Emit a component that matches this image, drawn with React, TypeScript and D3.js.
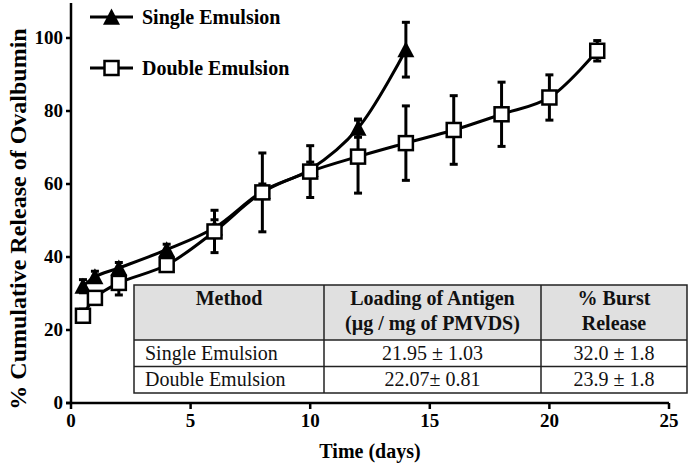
import React from 'react';
import * as d3 from 'd3';

const singleDays = [0.5, 1, 2, 4, 6, 8, 10, 12, 14];
const singleRelease = [32.0, 34.6, 37.0, 42.0, 48.0, 58.0, 64.0, 75.3, 96.8];
const singleError = [1.8, 1.5, 1.5, 1.5, 2.2, 2.0, 2.0, 2.5, 7.5];

const doubleDays = [0.5, 1, 2, 4, 6, 8, 10, 12, 14, 16, 18, 20, 22];
const doubleRelease = [23.9, 28.8, 32.9, 37.8, 47.0, 57.7, 63.4, 67.5, 71.2, 74.8, 79.1, 83.7, 96.5];
const doubleError = [1.8, 1.5, 3.3, 1.5, 5.8, 10.8, 7.1, 10.0, 10.2, 9.4, 8.8, 6.2, 2.8];

const xTicks = [0, 5, 10, 15, 20, 25];
const yTicks = [0, 20, 40, 60, 80, 100];

const seriesNames = ['Single Emulsion', 'Double Emulsion'];
const tableHeaders = [['Method'], ['Loading of Antigen', '(µg / mg of PMVDS)'], ['% Burst', 'Release']];
const tableMethods = ['Single Emulsion', 'Double Emulsion'];
const tableLoading = ['21.95 ± 1.03', '22.07± 0.81'];
const tableBurst = ['32.0 ± 1.8', '23.9 ± 1.8'];

const FONT = '"Liberation Serif", "Times New Roman", serif';

export default function App() {
  const W = 690, H = 464;
  const x = d3.scaleLinear().domain([0, 25]).range([71, 669]);
  const y = d3.scaleLinear().domain([0, 110]).range([403, 1.5]);

  const line = d3.line<[number, number]>()
    .x(d => x(d[0]))
    .y(d => y(d[1]))
    .curve(d3.curveCatmullRom.alpha(0.5));

  const single = singleDays.map((d, i) => [d, singleRelease[i], singleError[i]]);
  const dbl = doubleDays.map((d, i) => [d, doubleRelease[i], doubleError[i]]);

  const triPath = (cx: number, cy: number) => {
    const s = 8.5;
    return `M${cx},${cy - s}L${cx + s},${cy + s * 0.9}L${cx - s},${cy + s * 0.9}Z`;
  };

  const errBars = (data: number[][], key: string) =>
    data.map((d, i) => {
      const cx = x(d[0]);
      const y1 = y(d[1] + d[2]);
      const y2 = y(d[1] - d[2]);
      return (
        <g key={key + i} stroke="#000" strokeWidth={3}>
          <line x1={cx} x2={cx} y1={y1} y2={y2} />
          <line x1={cx - 4} x2={cx + 4} y1={y1} y2={y1} />
          <line x1={cx - 4} x2={cx + 4} y1={y2} y2={y2} />
        </g>
      );
    });

  const tL = 134, tR = 687, tT = 285, tHB = 340, tR1 = 366.5, tB = 393;
  const cols = [tL, 324, 541, tR];
  const colMid = (c: number) => (cols[c] + cols[c + 1]) / 2;

  return (
    <svg width={W} height={H} style={{ position: 'absolute', left: 0, top: 0, background: '#fff', fontFamily: FONT }}>
      <rect x={0} y={0} width={W} height={H} fill="#fff" />

      <g>
        <rect x={tL} y={tT} width={tR - tL} height={tHB - tT} fill="#e0e0e0" />
        <rect x={tL} y={tHB} width={tR - tL} height={tB - tHB} fill="#fff" />
        <g stroke="#222" strokeWidth={1.5} fill="none">
          <rect x={tL} y={tT} width={tR - tL} height={tB - tT} />
          <line x1={tL} x2={tR} y1={tHB} y2={tHB} />
          <line x1={tL} x2={tR} y1={tR1} y2={tR1} />
          <line x1={cols[1]} x2={cols[1]} y1={tT} y2={tB} />
          <line x1={cols[2]} x2={cols[2]} y1={tT} y2={tB} />
        </g>
        {tableHeaders.map((lines, c) =>
          lines.map((t, j) => (
            <text key={'h' + c + j} x={colMid(c)} y={lines.length === 1 ? 305 : 305 + j * 25}
              textAnchor="middle" fontWeight="bold" fontSize={20} fill="#111">{t}</text>
          ))
        )}
        {tableMethods.map((m, r) => {
          const cy = r === 0 ? (tHB + tR1) / 2 : (tR1 + tB) / 2;
          return (
            <g key={'r' + r} fontSize={20} fill="#111">
              <text x={tL + 11} y={cy + 6.5}>{m}</text>
              <text x={colMid(1)} y={cy + 6.5} textAnchor="middle">{tableLoading[r]}</text>
              <text x={colMid(2)} y={cy + 6.5} textAnchor="middle">{tableBurst[r]}</text>
            </g>
          );
        })}
      </g>

      <g stroke="#000" strokeWidth={2.5}>
        <line x1={x(0)} x2={x(0)} y1={3} y2={y(0) + 1} />
        <line x1={x(0) - 5} x2={x(25)} y1={y(0)} y2={y(0)} />
        {yTicks.map(t => <line key={'yt' + t} x1={x(0) - 5} x2={x(0)} y1={y(t)} y2={y(t)} />)}
        {xTicks.map(t => <line key={'xt' + t} x1={x(t)} x2={x(t)} y1={y(0)} y2={y(0) + 6} />)}
      </g>
      {yTicks.map(t => (
        <text key={'yl' + t} x={63} y={y(t) + 6} textAnchor="end" fontWeight="bold" fontSize={19}>{t}</text>
      ))}
      {xTicks.map(t => (
        <text key={'xl' + t} x={x(t)} y={427} textAnchor="middle" fontWeight="bold" fontSize={19}>{t}</text>
      ))}
      <text x={370} y={458} textAnchor="middle" fontWeight="bold" fontSize={20}>Time (days)</text>
      <text transform="translate(26,219) rotate(-90)" textAnchor="middle" fontWeight="bold" fontSize={24}>% Cumulative Release of Ovalbumin</text>

      {errBars(single, 's')}
      <path d={line(single.map(d => [d[0], d[1]]) as [number, number][]) || ''} fill="none" stroke="#000" strokeWidth={3} />
      {single.map((d, i) => <path key={'st' + i} d={triPath(x(d[0]), y(d[1]))} fill="#000" />)}

      {errBars(dbl, 'd')}
      <path d={line(dbl.map(d => [d[0], d[1]]) as [number, number][]) || ''} fill="none" stroke="#000" strokeWidth={3} />
      {dbl.map((d, i) => (
        <rect key={'ds' + i} x={x(d[0]) - 7} y={y(d[1]) - 7} width={14} height={14} fill="#fff" stroke="#000" strokeWidth={2.5} />
      ))}

      <g>
        <line x1={90} x2={133} y1={17} y2={17} stroke="#000" strokeWidth={3} />
        <path d={triPath(111.5, 17)} fill="#000" />
        <text x={142} y={24} fontWeight="bold" fontSize={20}>{seriesNames[0]}</text>
        <line x1={90} x2={133} y1={68} y2={68} stroke="#000" strokeWidth={3} />
        <rect x={104.5} y={61} width={14} height={14} fill="#fff" stroke="#000" strokeWidth={2.5} />
        <text x={142} y={75} fontWeight="bold" fontSize={20}>{seriesNames[1]}</text>
      </g>
    </svg>
  );
}
